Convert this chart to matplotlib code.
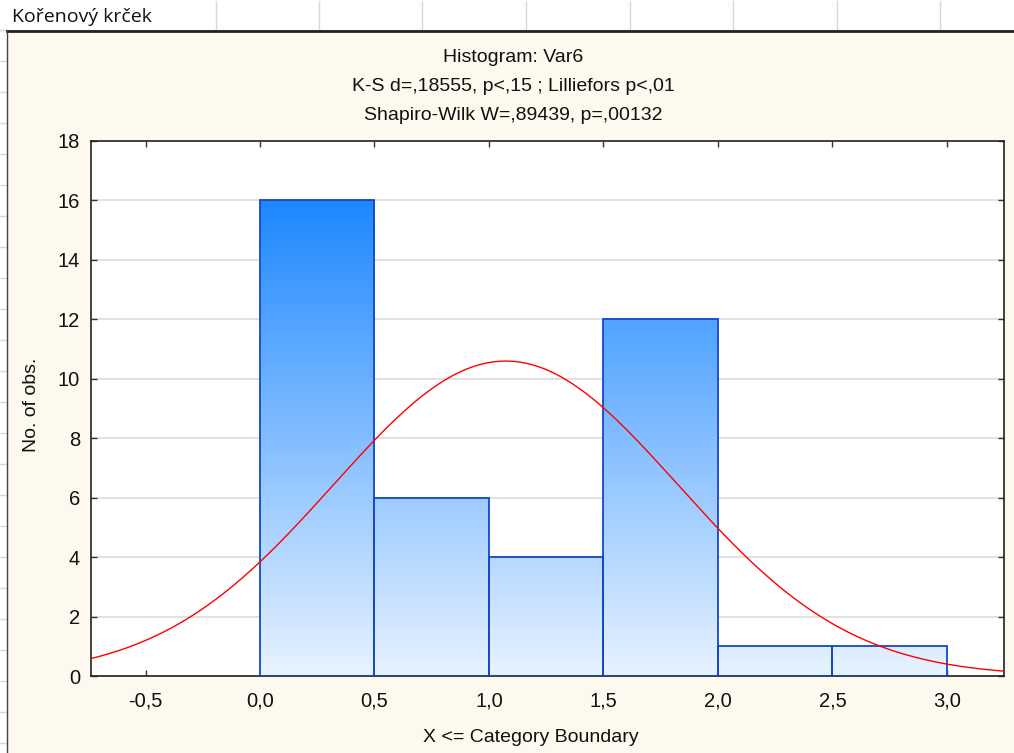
import numpy as np
import matplotlib.pyplot as plt
from matplotlib.patches import Rectangle
from matplotlib.lines import Line2D
from matplotlib.ticker import MultipleLocator, FuncFormatter

# histogram data
bin_edges = [0.0, 0.5, 1.0, 1.5, 2.0, 2.5, 3.0]
counts = [16, 6, 4, 12, 1, 1]
# fitted normal curve parameters
fit_mean = 1.073
fit_sd = 0.753
n_obs = sum(counts)

title_lines = ['Histogram: Var6',
               'K-S d=,18555, p<,15 ; Lilliefors p<,01',
               'Shapiro-Wilk W=,89439, p=,00132']
sheet_cell = 'Kořenový krček'

W, H = 1014, 753
plt.rcParams['font.family'] = ['Liberation Sans', 'DejaVu Sans']
fig = plt.figure(figsize=(W / 100, H / 100), dpi=100)
fig.patch.set_facecolor('white')

def px(x, y):
    return x / W, 1 - y / H

# spreadsheet background
for xc in [216, 319, 422, 526, 630, 733, 837, 940]:
    fig.add_artist(Line2D([xc / W, xc / W], [1 - 1 / H, 1 - 30 / H], color='#d8d8d8', lw=1))
for yr in range(30, 753, 31):
    fig.add_artist(Line2D([0, 7 / W], [1 - yr / H, 1 - yr / H], color='#d8d8d8', lw=1))
fig.add_artist(Line2D([0, 1], [1 - 30 / H, 1 - 30 / H], color='#d8d8d8', lw=1))
fig.text(12 / W, 1 - 17 / H, sheet_cell, fontsize=14, family=['Open Sans', 'DejaVu Sans'],
         color='#111111', va='center', ha='left')

# graph window
fig.add_artist(Rectangle(px(7, 753), (W - 7) / W, (753 - 31) / H, transform=fig.transFigure,
                         facecolor='#fef9ee', edgecolor='none', zorder=0))
fig.add_artist(Line2D([7 / W, 1], [1 - 31 / H, 1 - 31 / H], color='#222222', lw=2))
fig.add_artist(Line2D([7 / W, 7 / W], [0, 1 - 31 / H], color='#444444', lw=1))

for i, t in enumerate(title_lines):
    fig.text(513 / W, 1 - (57 + 29.5 * i) / H, t, ha='center', va='center',
             fontsize=14, color='#111111')

xlo, xhi = -0.738, 3.249
ax = fig.add_axes([91 / W, 1 - 676 / H, (1004 - 91) / W, (676 - 141) / H])
ax.set_facecolor('white')

# gradient fill, colour depends on height
c_low = np.array([232, 243, 255]) / 255
c_high = np.array([30, 136, 255]) / 255
for x0, x1, c in zip(bin_edges[:-1], bin_edges[1:], counts):
    yy = np.linspace(0, c, 200)
    frac = np.clip(yy / 16.0, 0, 1)[:, None]
    img = (c_low + (c_high - c_low) * frac)[:, None, :]
    ax.imshow(img, extent=[x0, x1, 0, c], origin='lower', aspect='auto',
              interpolation='bilinear', zorder=2)
ax.bar(bin_edges[:-1], counts, width=0.5, align='edge', fill=False,
       edgecolor='#1448c8', linewidth=1.3, zorder=3)
ax.set_aspect('auto')
ax.set_xlim(xlo, xhi)
ax.set_ylim(0, 18)

xs = np.linspace(xlo, xhi, 400)
pdf = n_obs * 0.5 * np.exp(-0.5 * ((xs - fit_mean) / fit_sd) ** 2) / (fit_sd * np.sqrt(2 * np.pi))
ax.plot(xs, pdf, color='#ff0000', lw=1.0, zorder=4)

ax.yaxis.grid(True, color='#dcdcdc', lw=1.2, zorder=1)
ax.set_axisbelow(True)
ax.xaxis.set_major_locator(MultipleLocator(0.5))
ax.yaxis.set_major_locator(MultipleLocator(2))
ax.xaxis.set_major_formatter(FuncFormatter(lambda v, p: f'{v:.1f}'.replace('.', ',')))
ax.tick_params(direction='in', length=4, width=1, color='#333333', labelsize=14.5,
               labelcolor='#111111', top=True, right=True, pad=8)
ax.tick_params(axis='x', pad=11)
for s in ax.spines.values():
    s.set_color('#222222')
    s.set_linewidth(1.2)

fig.text(531 / W, 1 - 738 / H, 'X <= Category Boundary', ha='center', va='center',
         fontsize=14, color='#111111')
fig.text(31 / W, 1 - 405 / H, 'No. of obs.', ha='center', va='center', rotation=90,
         fontsize=14, color='#111111')

fig.savefig('out.png', dpi=100, facecolor=fig.get_facecolor())
